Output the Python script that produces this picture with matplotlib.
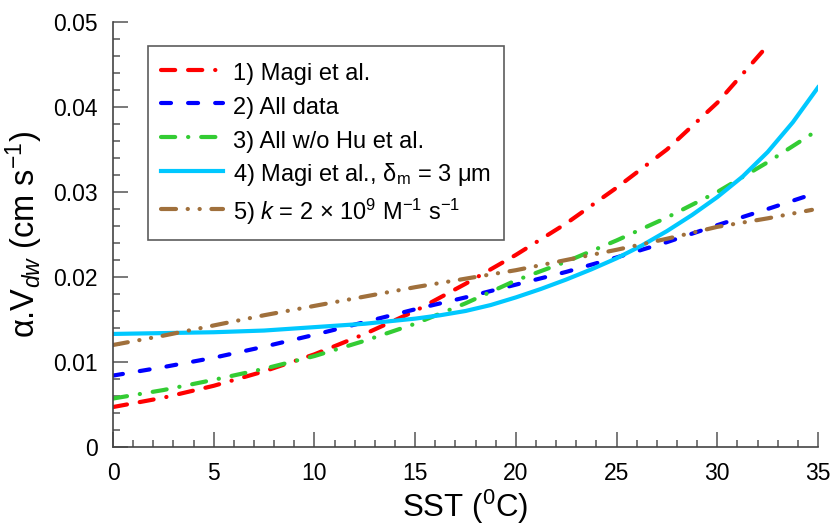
import matplotlib
matplotlib.use('Agg')
import matplotlib.pyplot as plt
from matplotlib.ticker import MultipleLocator

plt.rcParams['font.family'] = ['Liberation Sans', 'DejaVu Sans']
plt.rcParams['mathtext.fontset'] = 'custom'
plt.rcParams['mathtext.rm'] = 'Liberation Sans'
plt.rcParams['mathtext.it'] = 'Liberation Sans:italic'
plt.rcParams['mathtext.default'] = 'regular'

# curves
x_magi = [0, 2.5, 5, 7.5, 10, 12.5, 15, 17.5, 20, 22.5, 25, 27.5, 30, 32.6]
y_magi = [0.0047, 0.0058, 0.0072, 0.0089, 0.0109, 0.0133, 0.0160, 0.0192, 0.0226,
          0.0263, 0.0305, 0.0350, 0.0405, 0.0475]

x_all = [0, 2.5, 5, 7.5, 10, 12.5, 15, 17.5, 20, 22.5, 25, 27.5, 30, 32.5, 34.8]
y_all = [0.0084, 0.0094, 0.0105, 0.0118, 0.0132, 0.0147, 0.0162, 0.0176, 0.0191,
         0.0206, 0.0223, 0.0241, 0.0261, 0.0280, 0.0298]

x_nohu = [0, 2.5, 5, 7.5, 10, 12.5, 15, 17.5, 20, 22.5, 25, 27.5, 30, 32.5, 35]
y_nohu = [0.0057, 0.0067, 0.0079, 0.0092, 0.0107, 0.0125, 0.0145, 0.0169, 0.0196,
          0.0218, 0.0243, 0.0270, 0.0300, 0.0335, 0.0373]

x_delta = [0, 2.5, 5, 7.5, 10, 12.5, 15, 16.25, 17.5, 18.75, 20, 21.25, 22.5, 23.75,
           25, 26.25, 27.5, 28.75, 30, 31.25, 32.5, 33.75, 35]
y_delta = [0.0133, 0.0134, 0.0135, 0.0137, 0.0141, 0.0145, 0.0151, 0.0155, 0.0160,
           0.0167, 0.0176, 0.0186, 0.0197, 0.0209, 0.0222, 0.0237, 0.0254, 0.0273,
           0.0294, 0.0318, 0.0347, 0.0382, 0.0423]

x_k = [0, 2.5, 5, 7.5, 10, 12.5, 15, 17.5, 20, 22.5, 25, 27.5, 30, 32.5, 34.7]
y_k = [0.0120, 0.0131, 0.0143, 0.0155, 0.0166, 0.0177, 0.0188, 0.0198, 0.0208,
       0.0220, 0.0232, 0.0245, 0.0259, 0.0269, 0.0279]

labels = ['1) Magi et al.',
          '2) All data',
          '3) All w/o Hu et al.',
          r'4) Magi et al., $\delta_{m}$ = 3 $\mu$m',
          r'5) $\mathit{k}$ = 2 $\times$ 10$^{9}$ M$^{-1}$ s$^{-1}$']

fig = plt.figure(figsize=(8.33, 5.25), dpi=100)
ax = fig.add_axes([0.1357, 0.1486, 0.8463, 0.8095])

lw = 3.0
ax.plot(x_magi, y_magi, color='#ff0000', lw=lw, dash_capstyle='round',
        dashes=(3.4, 3.1, 3.4, 3.1, 0.05, 3.1), label=labels[0])
ax.plot(x_all, y_all, color='#0000ff', lw=lw, dash_capstyle='round',
        dashes=(2.4, 4.1), label=labels[1])
ax.plot(x_nohu, y_nohu, color='#33cc33', lw=lw, dash_capstyle='round',
        dashes=(3.4, 3.1, 0.05, 3.1), label=labels[2])
ax.plot(x_delta, y_delta, color='#00c8ff', lw=lw, label=labels[3])
ax.plot(x_k, y_k, color='#a0703c', lw=lw, dash_capstyle='round',
        dashes=(3.6, 2.8, 0.05, 2.8, 0.05, 2.8), label=labels[4])

ax.set_xlim(0, 35)
ax.set_ylim(0, 0.05)
ax.xaxis.set_major_locator(MultipleLocator(5))
ax.xaxis.set_minor_locator(MultipleLocator(1))
ax.yaxis.set_major_locator(MultipleLocator(0.01))
ax.yaxis.set_minor_locator(MultipleLocator(0.002))
ax.yaxis.set_major_formatter(plt.FuncFormatter(lambda v, p: '0' if v == 0 else '%.2f' % v))

for s in ['top', 'right']:
    ax.spines[s].set_visible(False)
for s in ['left', 'bottom']:
    ax.spines[s].set_color('#444444')
    ax.spines[s].set_linewidth(1.2)
ax.tick_params(which='both', direction='in', colors='#555555', labelcolor='black',
               labelsize=16.5, width=1.1)
ax.tick_params(which='major', length=10.5)
ax.tick_params(which='minor', length=5)
ax.tick_params(axis='x', which='major', pad=11)
ax.tick_params(axis='y', which='major', pad=11)

ax.set_xlabel(r'SST ($^{0}$C)', fontsize=22.5, labelpad=1.5)
ax.set_ylabel(r'α.V$_{\mathit{dw}}$ (cm s$^{-1}$)', fontsize=23.5, labelpad=6)

leg = ax.legend(loc='upper left', bbox_to_anchor=(0.05, 0.943), borderaxespad=0,
                fontsize=17, handlelength=2.6, handleheight=1.3, labelspacing=0.34,
                handletextpad=0.45, borderpad=0.55, fancybox=False, frameon=True,
                edgecolor='#333333')
leg.get_frame().set_linewidth(1.2)

fig.savefig('out.png', dpi=100)
